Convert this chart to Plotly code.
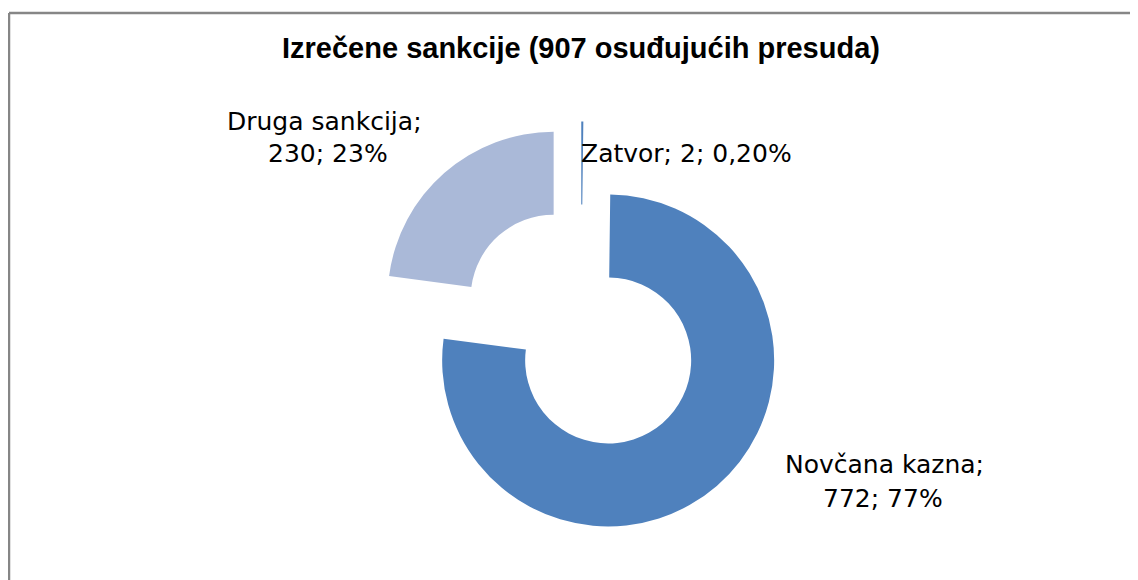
import plotly.graph_objects as go

# ---- data ----
categories = ["Zatvor", "Novčana kazna", "Druga sankcija"]
values = [2, 772, 230]
pct_labels = ["0,20%", "77%", "23%"]
title_text = "Izrečene sankcije (907 osuđujućih presuda)"

# ---- style ----
colors = ["#4F81BD", "#4F81BD", "#AAB9D8"]
OFF = 8            # default page body margin
W, H = 1130, 572   # figure size so that it fits in the 1138x580 window


def px_x(v):
    return (v - OFF) / W


def px_y(v):
    return 1 - (v - OFF) / H


cx, cy, half = 581, 329, 207.5

fig = go.Figure()
fig.add_trace(go.Pie(
    labels=categories,
    values=values,
    sort=False,
    direction="clockwise",
    rotation=0,
    hole=0.5,
    pull=[0.25, 0.25, 0.25],
    marker=dict(colors=colors, line=dict(width=0)),
    textinfo="none",
    hoverinfo="label+value+percent",
    showlegend=False,
    domain=dict(x=[px_x(cx - half), px_x(cx + half)],
                y=[px_y(cy + half), px_y(cy - half)]),
))

# label lines built from data
label_lines = [
    [f"{categories[0]}; {values[0]}; {pct_labels[0]}"],
    [f"{categories[1]};", f"{values[1]}; {pct_labels[1]}"],
    [f"{categories[2]};", f"{values[2]}; {pct_labels[2]}"],
]
label_pos = [
    [(686.5, 153)],
    [(884, 464), (883, 498)],
    [(324.5, 122), (328, 154)],
]
annotations = []
for lines, poss in zip(label_lines, label_pos):
    for t, (x, y) in zip(lines, poss):
        annotations.append(dict(
            text=t, x=px_x(x), y=px_y(y), xref="paper", yref="paper",
            xanchor="center", yanchor="middle", showarrow=False,
            font=dict(family="DejaVu Sans, sans-serif", size=25, color="#000000"),
        ))
annotations.append(dict(
    text=f"<b>{title_text}</b>", x=px_x(581), y=px_y(47.5), xref="paper", yref="paper",
    xanchor="center", yanchor="middle", showarrow=False,
    font=dict(family="Liberation Sans, Arial, sans-serif", size=29, color="#000000"),
))

border = dict(color="#868686", width=2.5)
fig.update_layout(
    width=W, height=H,
    margin=dict(l=0, r=0, t=0, b=0),
    paper_bgcolor="#FFFFFF",
    plot_bgcolor="#FFFFFF",
    annotations=annotations,
    shapes=[
        dict(type="line", xref="paper", yref="paper",
             x0=px_x(9), x1=1.0, y0=px_y(13), y1=px_y(13), line=border),
        dict(type="line", xref="paper", yref="paper",
             x0=px_x(9), x1=px_x(9), y0=px_y(13), y1=0.0, line=border),
    ],
)

fig.write_html("out.html")
